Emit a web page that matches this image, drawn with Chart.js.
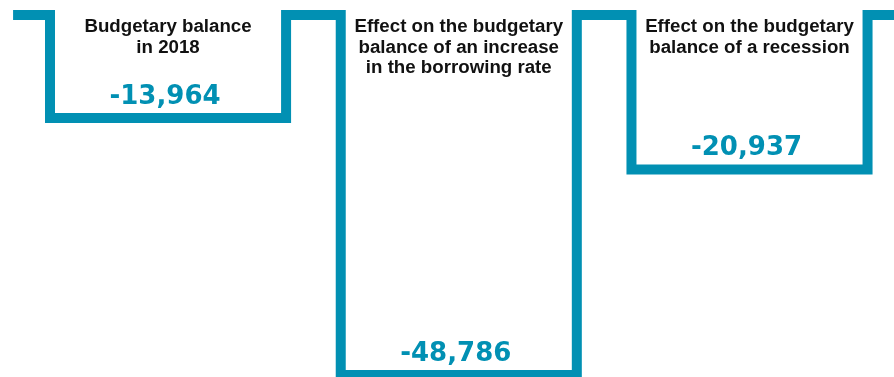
<!DOCTYPE html>
<html>
<head>
<meta charset="utf-8">
<script src="https://cdn.jsdelivr.net/npm/chart.js@4"></script>
<style>
  html, body { margin: 0; padding: 0; background: #fff; }
  #chart { display: block; }
</style>
</head>
<body>
<canvas id="chart" width="894" height="377"></canvas>
<script>
var categories = [
    ["Budgetary balance", "in 2018"],
    ["Effect on the budgetary", "balance of an increase", "in the borrowing rate"],
    ["Effect on the budgetary", "balance of a recession"]
];
var balances = [-13964, -48786, -20937];
var valueLabels = ["-13,964", "-48,786", "-20,937"];

var teal = "#0190b3";
var halfWidth = 0.406; // half width of each well, in category units

// outline: flat at zero, then down into a well for each category
var points = [{ x: -0.533, y: 0 }];
balances.forEach(function (v, i) {
    points.push({ x: i - halfWidth, y: 0 });
    points.push({ x: i - halfWidth, y: v });
    points.push({ x: i + halfWidth, y: v });
    points.push({ x: i + halfWidth, y: 0 });
});
points.push({ x: 2.497, y: 0 });

var labelPlugin = {
    id: "wellLabels",
    afterDatasetsDraw: function (chart) {
        var ctx = chart.ctx;
        var xs = chart.scales.x;
        var ys = chart.scales.y;
        ctx.save();
        ctx.textAlign = "center";
        ctx.textBaseline = "alphabetic";
        categories.forEach(function (lines, i) {
            var cx = xs.getPixelForValue(i);
            ctx.fillStyle = "#111";
            ctx.font = "bold 18.7px 'Liberation Sans', Arial, sans-serif";
            lines.forEach(function (t, j) {
                ctx.fillText(t, cx, 32 + j * 20.5);
            });
            ctx.fillStyle = teal;
            ctx.font = "bold 26px 'DejaVu Sans', sans-serif";
            ctx.fillText(valueLabels[i], cx - 3, ys.getPixelForValue(balances[i]) - 14);
        });
        ctx.restore();
    }
};

new Chart(document.getElementById("chart"), {
    type: "line",
    data: {
        datasets: [
            {
                label: "Budgetary balance",
                data: points,
                borderColor: teal,
                borderWidth: 10,
                borderJoinStyle: "miter",
                borderCapStyle: "butt",
                pointRadius: 0,
                fill: false,
                tension: 0,
                clip: false
            }
        ]
    },
    options: {
        responsive: false,
        animation: false,
        layout: { padding: { top: 15, bottom: 2, left: 0, right: 0 } },
        scales: {
            x: { type: "linear", min: -0.578, max: 2.497, display: false },
            y: { type: "linear", min: Math.min.apply(null, balances), max: 0, display: false }
        },
        plugins: {
            legend: { display: false },
            tooltip: { enabled: false }
        }
    },
    plugins: [labelPlugin]
});
</script>
</body>
</html>
